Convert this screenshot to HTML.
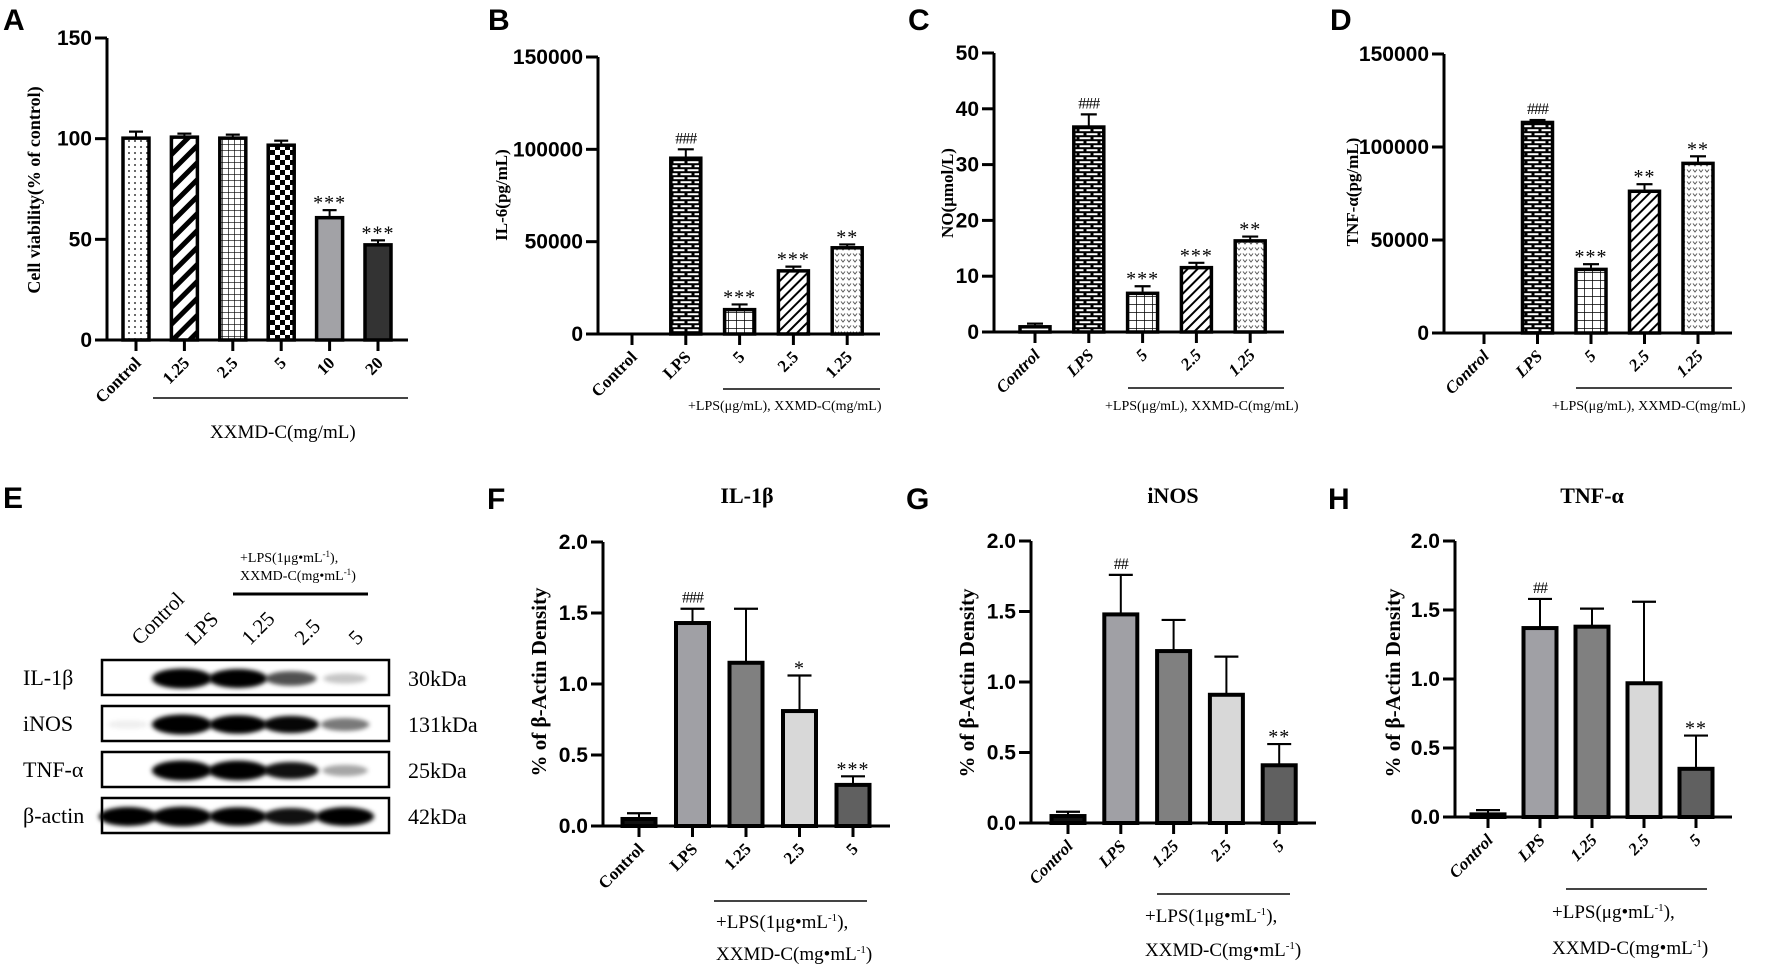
<!DOCTYPE html>
<html><head><meta charset="utf-8">
<style>
html,body{margin:0;padding:0;background:#fff;}
svg{display:block;}
.serif{font-family:"Liberation Serif",serif;}
.sans{font-family:"Liberation Sans",sans-serif;}
</style></head>
<body>
<svg id="fig" xmlns="http://www.w3.org/2000/svg" width="1772" height="971" viewBox="0 0 1772 971">
<defs>
<pattern id="p-dots" width="6" height="6" patternUnits="userSpaceOnUse"><rect width="6" height="6" fill="#fff"/><circle cx="3" cy="3" r="0.9" fill="#000"/></pattern>
<pattern id="p-diag-thick" width="12" height="12" patternUnits="userSpaceOnUse" patternTransform="rotate(45)"><rect width="12" height="12" fill="#fff"/><rect x="0" y="0" width="5" height="12" fill="#000"/></pattern>
<pattern id="p-grid" width="6" height="6" patternUnits="userSpaceOnUse"><rect width="6" height="6" fill="#fff"/><path d="M0 0H6M0 0V6" stroke="#000" stroke-width="1.3"/></pattern>
<pattern id="p-grid-big" width="8" height="8" patternUnits="userSpaceOnUse"><rect width="8" height="8" fill="#fff"/><path d="M0 0H8M0 0V8" stroke="#000" stroke-width="1.5"/></pattern>
<pattern id="p-checker" width="10" height="10" patternUnits="userSpaceOnUse"><rect width="10" height="10" fill="#fff"/><rect width="5" height="5" fill="#000"/><rect x="5" y="5" width="5" height="5" fill="#000"/></pattern>
<pattern id="p-brick" width="14" height="8" patternUnits="userSpaceOnUse"><rect width="14" height="8" fill="#000"/><rect x="1.5" y="1.2" width="11" height="2" fill="#fff"/><rect x="-5.5" y="5.2" width="11" height="2" fill="#fff"/><rect x="8.5" y="5.2" width="11" height="2" fill="#fff"/></pattern>
<pattern id="p-diag-thin" width="7" height="7" patternUnits="userSpaceOnUse" patternTransform="rotate(45)"><rect width="7" height="7" fill="#fff"/><rect width="2" height="7" fill="#000"/></pattern>
<pattern id="p-vee" width="6" height="6" patternUnits="userSpaceOnUse"><rect width="6" height="6" fill="#fff"/><path d="M1 1.5L3 4L5 1.5" stroke="#555" stroke-width="1" fill="none"/></pattern>
<filter id="blur" x="-50%" y="-100%" width="200%" height="300%"><feGaussianBlur stdDeviation="2.5 2"/></filter>
</defs>
<g id="root"></g>
</svg>
<script>
// ---------- Panel A data ----------
const aCats = ['Control','1.25','2.5','5','10','20'];
const aVals = [101, 101.5, 101, 97.5, 61.5, 48];
const aErrs = [103.5, 102.5, 102, 99, 64.5, 49.5];
const aSig = ['','','','','***','***'];
const aTicks = [0, 50, 100, 150];
// ---------- Panel B data ----------
const bCats = ['Control','LPS','5','2.5','1.25'];
const bVals = [0, 96000, 14000, 35000, 47500];
const bErrs = [0, 100000, 16000, 36500, 48500];
const bSig = ['','###','***','***','**'];
const bTicks = [0, 50000, 100000, 150000];
// ---------- Panel C data ----------
const cCats = ['Control','LPS','5','2.5','1.25'];
const cVals = [1.2, 37, 7.2, 11.8, 16.6];
const cErrs = [1.5, 39, 8.2, 12.4, 17.1];
const cSig = ['','###','***','***','**'];
const cTicks = [0, 10, 20, 30, 40, 50];
// ---------- Panel D data ----------
const dCats = ['Control','LPS','5','2.5','1.25'];
const dVals = [0, 114000, 35000, 77000, 92000];
const dErrs = [0, 114500, 37000, 80000, 95000];
const dSig = ['','###','***','**','**'];
const dTicks = [0, 50000, 100000, 150000];
// ---------- Panel F data ----------
const fCats = ['Control','LPS','1.25','2.5','5'];
const fVals = [0.06, 1.44, 1.16, 0.82, 0.30];
const fErrs = [0.09, 1.53, 1.53, 1.06, 0.35];
const fSig = ['','###','','*','***'];
const fTicks = [0, 0.5, 1.0, 1.5, 2.0];
// ---------- Panel G data ----------
const gCats = ['Control','LPS','1.25','2.5','5'];
const gVals = [0.06, 1.49, 1.23, 0.92, 0.42];
const gErrs = [0.08, 1.76, 1.44, 1.18, 0.56];
const gSig = ['','##','','','**'];
const gTicks = [0, 0.5, 1.0, 1.5, 2.0];
// ---------- Panel H data ----------
const hCats = ['Control','LPS','1.25','2.5','5'];
const hVals = [0.03, 1.38, 1.39, 0.98, 0.36];
const hErrs = [0.05, 1.58, 1.51, 1.56, 0.59];
const hSig = ['','##','','','**'];
const hTicks = [0, 0.5, 1.0, 1.5, 2.0];
// ---------- Western blot data ----------
const blotRows = ['IL-1β','iNOS','TNF-α','β-actin'];
const blotKDa = ['30kDa','131kDa','25kDa','42kDa'];
const blotLanes = ['Control','LPS','1.25','2.5','5'];
const blotIntensity = [
  [0.0, 1.0, 0.92, 0.55, 0.18],
  [0.05, 1.0, 0.88, 0.78, 0.42],
  [0.0, 1.0, 0.97, 0.75, 0.28],
  [0.92, 0.98, 0.88, 0.75, 0.9]
];

const NS='http://www.w3.org/2000/svg';
const root=document.getElementById('root');
function mk(tag, attrs, parent, text){
  const e=document.createElementNS(NS,tag);
  for(const k in attrs) e.setAttribute(k, attrs[k]);
  if(text!==undefined) e.textContent=text;
  (parent||root).appendChild(e);
  return e;
}

function drawPanel(p){
  const g=mk('g',{});
  
  
  const y=v=> p.y0 - v/p.max*(p.y0-p.yTop);
  const cx=i=> p.c0 + i*p.step;
  const ya=mk('line',{x1:p.x0,y1:p.yTop,x2:p.x0,y2:p.y0,stroke:'#000','stroke-width':3},g);
   
  const xa=mk('line',{x1:p.x0-12,y1:p.y0,x2:p.xEnd,y2:p.y0,stroke:'#000','stroke-width':3},g);
   
  p.ticks.forEach(t=>{
    mk('line',{x1:p.x0-12,y1:y(t),x2:p.x0,y2:y(t),stroke:'#000','stroke-width':3},g);
    const lbl = p.decimals? t.toFixed(1): String(t);
    const tx=mk('text',{x:p.x0-15,y:y(t)+7,'text-anchor':'end','font-size':p.tickFs||21,'font-weight':'bold',class:'sans'},g,lbl);
     
  });
  p.cats.forEach((c,i)=>{
    const x=cx(i), v=p.vals[i], e=p.errs[i], bw=p.barW;
    mk('line',{x1:x,y1:p.y0,x2:x,y2:p.y0+11,stroke:'#000','stroke-width':3},g);
    if(e>v){
      mk('line',{x1:x,y1:y(v),x2:x,y2:y(e),stroke:'#000','stroke-width':2},g);
      mk('line',{x1:x-p.capW/2,y1:y(e),x2:x+p.capW/2,y2:y(e),stroke:'#000','stroke-width':2.2},g);
    }
    if(v>0){
      const h=p.y0-y(v);
      const r=mk('rect',{x:x-bw/2,y:y(v)+1.5,width:bw,height:Math.max(h-1.5,1),fill:p.fills[i],stroke:'#000','stroke-width':p.bStroke||3.5},g);
      
      
    }
    if(p.sig[i]){
      const isHash=p.sig[i][0]==='#';
      const s=mk('text',{x:x,y:y(e)-(isHash?6:1),'text-anchor':'middle','font-size':isHash?16:20,class:'serif','letter-spacing':isHash?'-1':'1'},g,p.sig[i]);
       
    }
    const lx=x+6, ly=p.y0+24;
    const t=mk('text',{x:lx,y:ly,'text-anchor':'end','font-size':p.xFs||17,'font-weight':'bold','font-style':p.italic?'italic':'normal',class:'serif',transform:`rotate(-45 ${lx} ${ly})`},g,c);
     
  });
  const yt=mk('text',{x:p.ytX,y:p.ytY,'text-anchor':'middle','font-size':p.ytFs||18,'font-weight':'bold',class:'serif',transform:`rotate(-90 ${p.ytX} ${p.ytY})`},g,p.ytitle);
   
  const L=mk('text',{x:p.lx,y:p.ly,'font-size':30,'font-weight':'bold',class:'sans'},g,p.letter);
   
  if(p.title){
    const T=mk('text',{x:p.titleX,y:p.titleY,'text-anchor':'middle','font-size':22,'font-weight':'bold',class:'serif'},g,p.title);
     
  }
  const u=mk('line',{x1:p.u[0],y1:p.u[2],x2:p.u[1],y2:p.u[2],stroke:'#444','stroke-width':2},g);
   
  p.notes.forEach(n=>{
    const t=mk('text',{x:n[0],y:n[1],'font-size':n[3]||15,class:'serif'},g);
     
    t.innerHTML=n[2];
  });
}

const sup='<tspan font-size="11" dy="-7">-1</tspan><tspan dy="7">';
drawPanel({name:'panel-a-cell-viability',letter:'A',lx:3,ly:30,x0:107,yTop:38,y0:340,xEnd:408,max:150,ticks:aTicks,cats:aCats,vals:aVals,errs:aErrs,sig:aSig,
  c0:136,step:48.4,barW:26,capW:14,fills:['url(#p-dots)','url(#p-diag-thick)','url(#p-grid)','url(#p-checker)','#a2a2a6','#333'],
  ytitle:'Cell viability(% of control)',ytX:40,ytY:190,u:[153,408,398],notes:[[210,438,'XXMD-C(mg/mL)',19]]});
drawPanel({name:'panel-b-il6',letter:'B',lx:488,ly:30,x0:598,yTop:57,y0:334,xEnd:880,max:150000,ticks:bTicks,cats:bCats,vals:bVals,errs:bErrs,sig:bSig,
  c0:632,step:53.8,barW:30,capW:16,fills:['#fff','url(#p-brick)','url(#p-grid-big)','url(#p-diag-thin)','url(#p-vee)'],
  ytitle:'IL-6(pg/mL)',ytX:507,ytY:195,ytFs:17,u:[723,880,389],notes:[[688,410,'+LPS(μg/mL), XXMD-C(mg/mL)',14]]});
drawPanel({name:'panel-c-no',letter:'C',lx:908,ly:30,x0:994,yTop:53,y0:332,xEnd:1284,max:50,ticks:cTicks,cats:cCats,vals:cVals,errs:cErrs,sig:cSig,italic:true,
  c0:1035,step:53.8,barW:30,capW:16,fills:['#fff','url(#p-brick)','url(#p-grid-big)','url(#p-diag-thin)','url(#p-vee)'],
  ytitle:'NO(μmol/L)',ytX:953,ytY:193,ytFs:17,u:[1128,1284,388],notes:[[1105,410,'+LPS(μg/mL), XXMD-C(mg/mL)',14]]});
drawPanel({name:'panel-d-tnf',letter:'D',lx:1330,ly:30,x0:1444,yTop:54,y0:333,xEnd:1732,max:150000,ticks:dTicks,cats:dCats,vals:dVals,errs:dErrs,sig:dSig,italic:true,
  c0:1484,step:53.5,barW:30,capW:16,fills:['#fff','url(#p-brick)','url(#p-grid-big)','url(#p-diag-thin)','url(#p-vee)'],
  ytitle:'TNF-α(pg/mL)',ytX:1358,ytY:192,ytFs:17,u:[1576,1732,388],notes:[[1552,410,'+LPS(μg/mL), XXMD-C(mg/mL)',14]]});
const gray=['#111','#a0a0a5','#808080','#d8d8d8','#606060'];
drawPanel({name:'panel-f-il1b',letter:'F',lx:487,ly:509,x0:603,yTop:542,y0:826,xEnd:890,max:2,ticks:fTicks,decimals:true,cats:fCats,vals:fVals,errs:fErrs,sig:fSig,
  c0:639,step:53.5,barW:33,capW:24,fills:gray,bStroke:4,
  ytitle:'% of β-Actin Density',ytX:546,ytY:682,ytFs:21,title:'IL-1β',titleX:747,titleY:503,
  u:[714,867,901],notes:[[716,928,'+LPS(1μg•mL'+sup+'),</tspan>',19],[716,960,'XXMD-C(mg•mL'+sup+')</tspan>',19]]});
drawPanel({name:'panel-g-inos',letter:'G',lx:906,ly:509,x0:1031,yTop:541,y0:823,xEnd:1316,max:2,ticks:gTicks,decimals:true,cats:gCats,vals:gVals,errs:gErrs,sig:gSig,italic:true,
  c0:1068,step:52.8,barW:33,capW:24,fills:gray,bStroke:4,
  ytitle:'% of β-Actin Density',ytX:974,ytY:683,ytFs:21,title:'iNOS',titleX:1173,titleY:503,
  u:[1157,1290,894],notes:[[1145,922,'+LPS(1μg•mL'+sup+'),</tspan>',19],[1145,956,'XXMD-C(mg•mL'+sup+')</tspan>',19]]});
drawPanel({name:'panel-h-tnf',letter:'H',lx:1328,ly:509,x0:1455,yTop:541,y0:817,xEnd:1732,max:2,ticks:hTicks,decimals:true,cats:hCats,vals:hVals,errs:hErrs,sig:hSig,italic:true,
  c0:1488,step:52,barW:33,capW:24,fills:gray,bStroke:4,
  ytitle:'% of β-Actin Density',ytX:1400,ytY:683,ytFs:21,title:'TNF-α',titleX:1592,titleY:503,
  u:[1566,1707,889],notes:[[1552,918,'+LPS(μg•mL'+sup+'),</tspan>',19],[1552,954,'XXMD-C(mg•mL'+sup+')</tspan>',19]]});

// ---------- Panel E: western blot ----------
(function(){
  const g=mk('g',{});
  
  
  const L=mk('text',{x:3,y:508,'font-size':30,'font-weight':'bold',class:'sans'},g,'E');
   
  const boxTop=[660,706,752,798], boxH=35, bx0=102, bx1=389;
  const laneX=[128,182,238,291,345];
  blotLanes.forEach((n,i)=>{
    const lx=laneX[i]+12, ly=646;
    const t=mk('text',{x:lx,y:ly,'font-size':21,class:'serif',transform:`rotate(-45 ${lx} ${ly})`},g,n);
     
  });
  const n1=mk('text',{x:240,y:562,'font-size':14,class:'serif'},g);
  n1.innerHTML='+LPS(1μg•mL<tspan font-size="9" dy="-5">-1</tspan><tspan dy="5">),</tspan>';
   
  const n2=mk('text',{x:240,y:580,'font-size':14,class:'serif'},g);
  n2.innerHTML='XXMD-C(mg•mL<tspan font-size="9" dy="-5">-1</tspan><tspan dy="5">)</tspan>';
   
  mk('line',{x1:233,y1:594,x2:368,y2:594,stroke:'#000','stroke-width':3},g);
  blotRows.forEach((r,ri)=>{
    const top=boxTop[ri];
    const rl=mk('text',{x:23,y:top+25,'font-size':22,class:'serif'},g,r);
     
    const box=mk('rect',{x:bx0,y:top,width:bx1-bx0,height:boxH,fill:'#fff',stroke:'#000','stroke-width':2.5},g);
     
    blotIntensity[ri].forEach((v,li)=>{
      if(v<=0) return;
      const w = 20 + 10*Math.min(v,1);
      const h = 6 + 12*Math.min(v,1);
      const b=mk('ellipse',{cx:laneX[li],cy:top+boxH/2+1,rx:w,ry:h/2+1,fill:'#000','fill-opacity':Math.min(1,v*1.25),filter:'url(#blur)'},g);
       
    });
    const k=mk('text',{x:408,y:top+26,'font-size':22,class:'serif'},g,blotKDa[ri]);
     
  });
})();
</script>
</body></html>
